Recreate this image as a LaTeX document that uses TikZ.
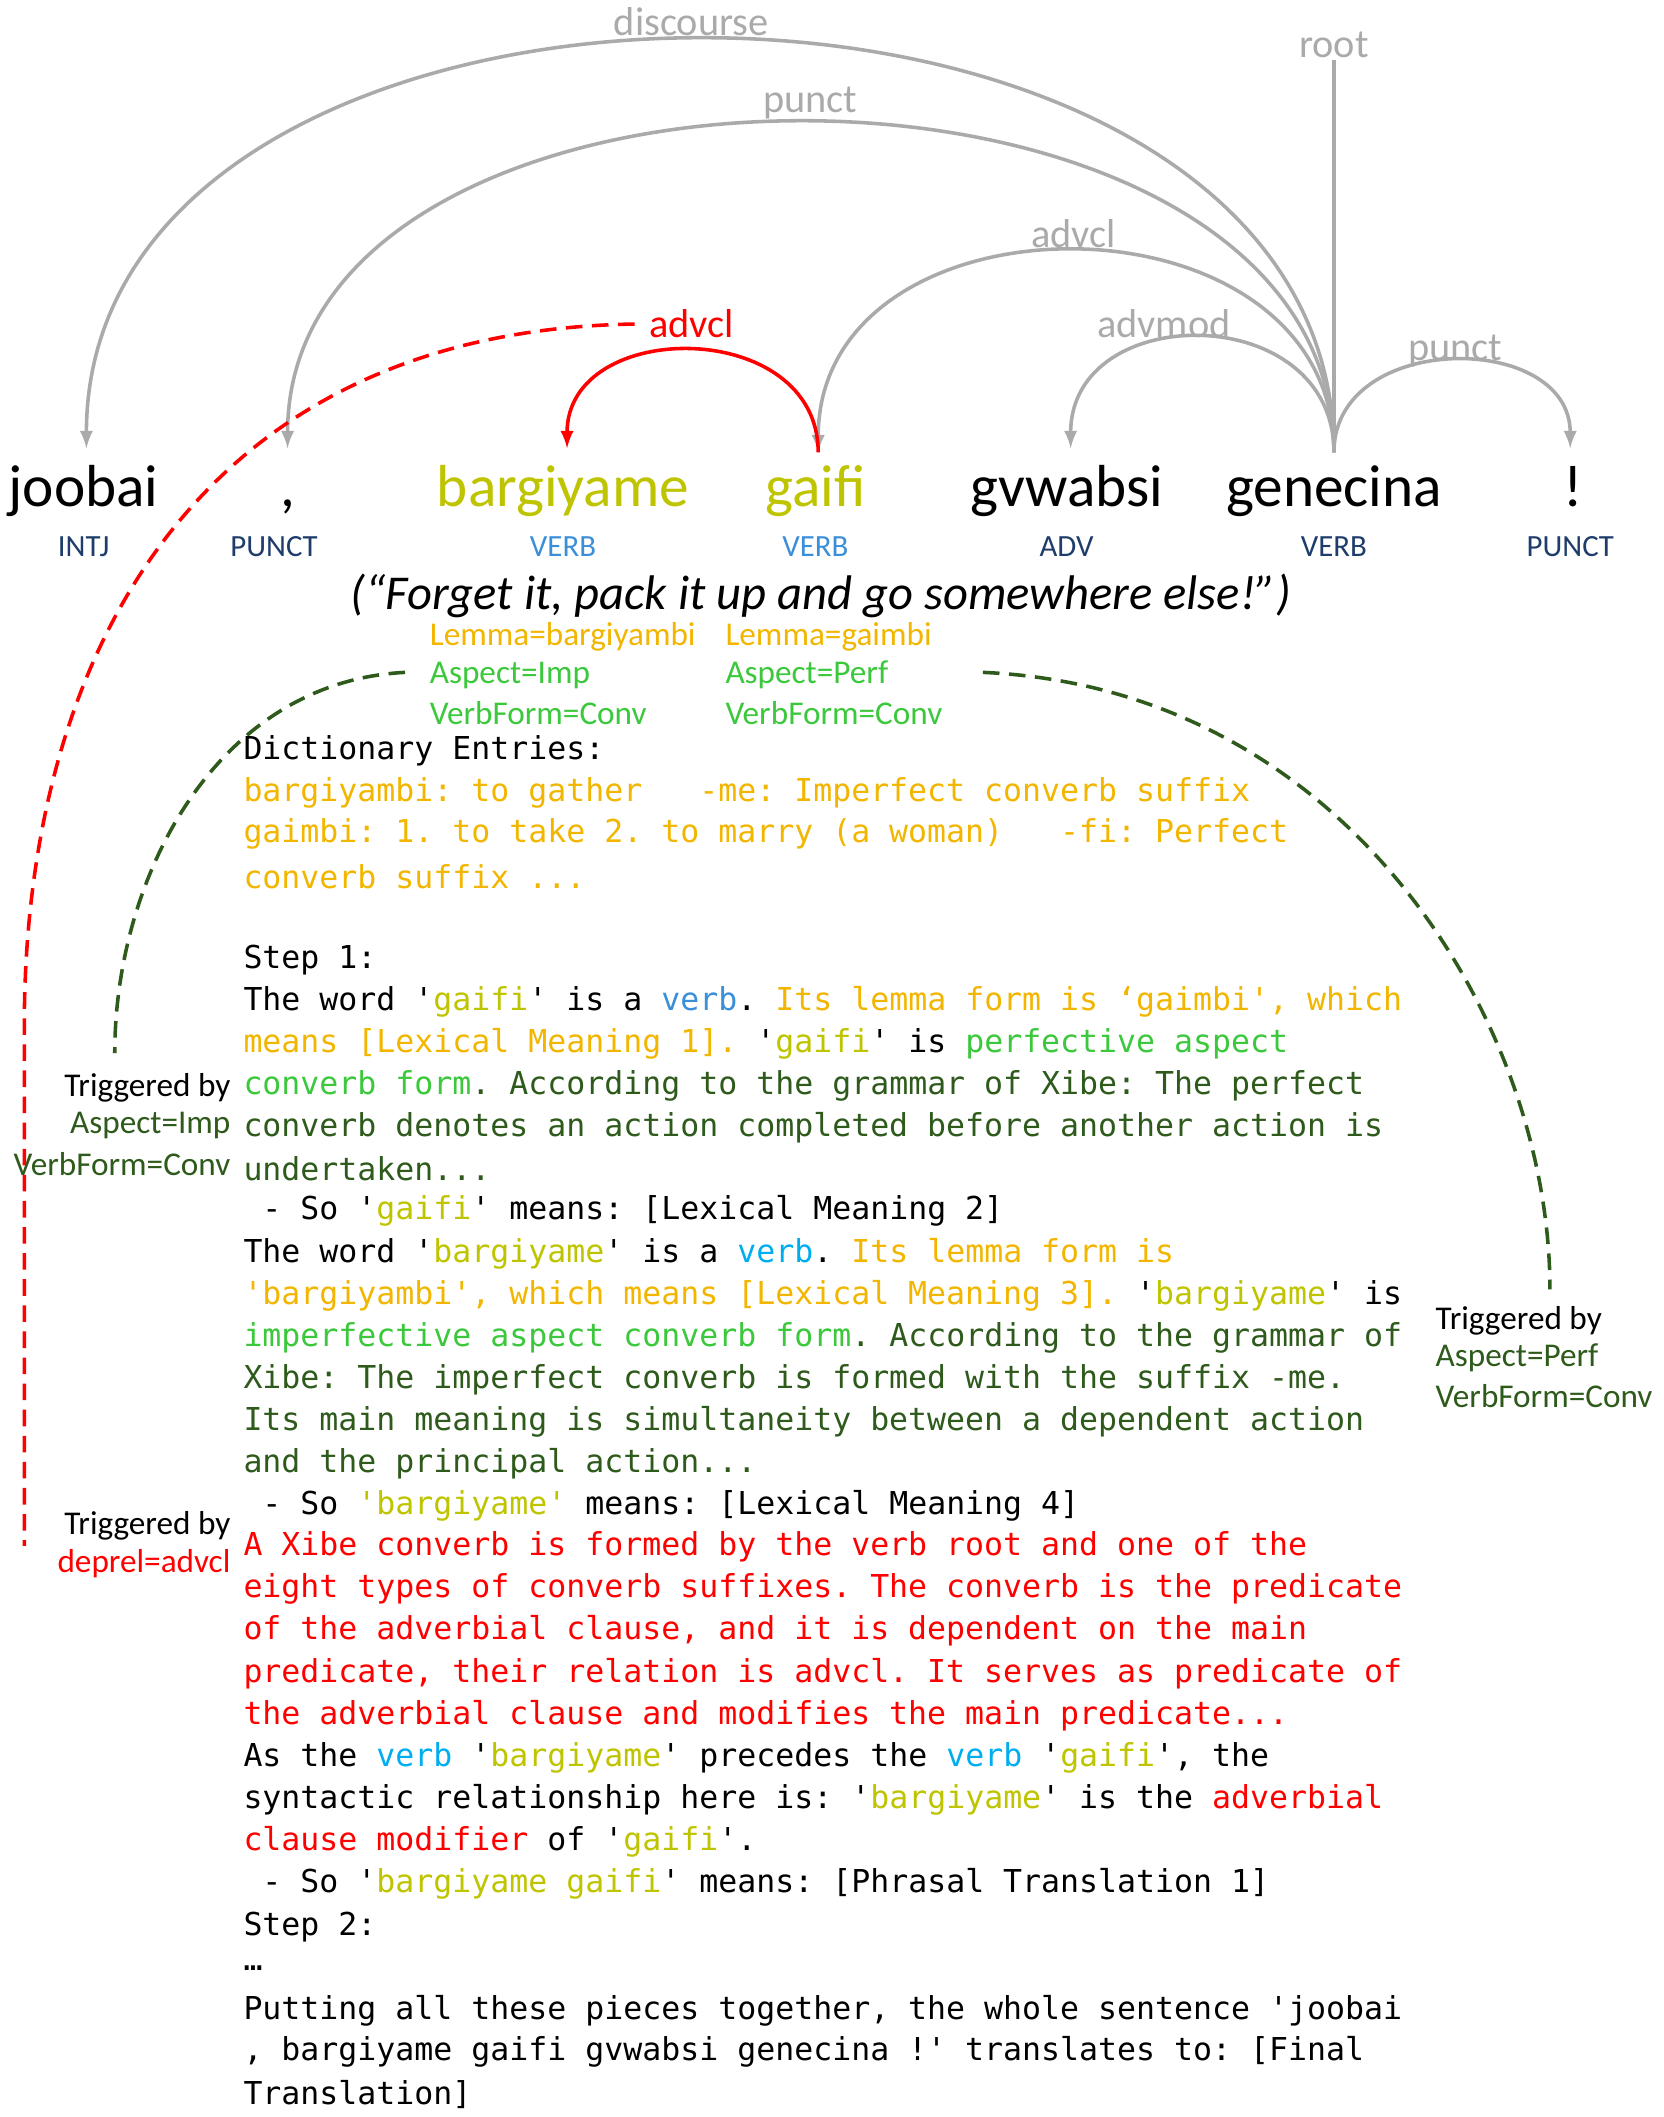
\documentclass[tikz,border=0pt]{standalone}
\usepackage{fontspec}
\setmainfont{Carlito}
\newfontfamily\monofam{DejaVu Sans Mono}
\definecolor{wordol}{HTML}{BFC400}
\definecolor{goldy}{HTML}{F2B600}
\definecolor{lgreen}{HTML}{3CC83C}
\definecolor{dgreen}{HTML}{2E5A1C}
\definecolor{vblue}{HTML}{3A8FD8}
\definecolor{cblue}{HTML}{00AEEF}
\definecolor{posblue}{HTML}{1F3D6B}
\definecolor{arcgray}{HTML}{AAAAAA}
\newcommand{\cw}[1]{\textcolor{wordol}{#1}}
\newcommand{\cv}[1]{\textcolor{vblue}{#1}}
\newcommand{\cb}[1]{\textcolor{cblue}{#1}}
\newcommand{\cg}[1]{\textcolor{goldy}{#1}}
\newcommand{\cp}[1]{\textcolor{lgreen}{#1}}
\newcommand{\cd}[1]{\textcolor{dgreen}{#1}}
\newcommand{\cred}[1]{\textcolor{red}{#1}}
\frenchspacing
\begin{document}
\begin{tikzpicture}[x=0.02cm,y=-0.02cm,>=latex,
  word/.style={anchor=base,inner sep=0pt,font=\fontsize{25}{30}\selectfont},
  postag/.style={anchor=base,inner sep=0pt,text=posblue,font=\fontsize{13}{15}\selectfont},
  arclab/.style={inner sep=1pt,text=arcgray,font=\fontsize{17}{20}\selectfont},
  arc/.style={arcgray,line width=1.5pt,->},
  trigline/.style={line width=1.5pt,dash pattern=on 7pt off 4pt},
  feat/.style={anchor=west,inner sep=0pt,font=\fontsize{14}{16}\selectfont},
  trig/.style={anchor=east,inner sep=0pt,font=\fontsize{14}{16}\selectfont},
  code/.style={anchor=west,inner sep=0pt,font=\monofam\fontsize{13.3}{16}\selectfont}]
\useasboundingbox (0,0) rectangle (1232,1568);
%% words
\node[word] (joobai) at (62,375) {joobai};
\node[word] (comma) at (213,375) {,};
\node[word,text=wordol] (bargiyame) at (417,375) {bargiyame};
\node[word,text=wordol] (gaifi) at (604,375) {gaifi};
\node[word] (gvwabsi) at (790,375) {gvwabsi};
\node[word] (genecina) at (988,375) {genecina};
\node[word] (excl) at (1165,375) {!};
\node[postag] (p1) at (62,412) {INTJ};
\node[postag] (p2) at (203,412) {PUNCT};
\node[postag,text=vblue] (p3) at (417,412) {VERB};
\node[postag,text=vblue] (p4) at (604,412) {VERB};
\node[postag] (p5) at (790,412) {ADV};
\node[postag] (p6) at (988,412) {VERB};
\node[postag] (p7) at (1163,412) {PUNCT};
\node[inner sep=0pt,font=\itshape\fontsize{20.5}{24}\selectfont] (transl) at (608,441) {(“Forget it, pack it up and go somewhere else!”)};
%% arcs
\coordinate (hd) at (988,335);
\coordinate (t1) at (64,332);
\coordinate (t2) at (213,332);
\coordinate (t3) at (420,332);
\coordinate (t4) at (606,335);
\coordinate (t5) at (793,332);
\coordinate (t7) at (1163,332);
\node[arclab] (lroot) at (988,33) {root};
\draw[arcgray,line width=1.5pt] (lroot) -- (hd);
\draw[arc] (hd) .. controls (988,-72) and (64,-72) .. (t1);
\node[arclab] (ldisc) at (512,16) {discourse};
\draw[arc] (hd) .. controls (988,10) and (213,10) .. (t2);
\node[arclab] (lpunct) at (600,76) {punct};
\draw[arc] (hd) .. controls (988,136) and (606,136) .. (t4);
\node[arclab] (ladvcl) at (795,173) {advcl};
\draw[arc] (hd) .. controls (988,222) and (793,222) .. (t5);
\node[arclab] (ladvmod) at (862,240) {advmod};
\draw[arc] (hd) .. controls (988,245) and (1163,245) .. (t7);
\node[arclab] (lpunct2) at (1078,260) {punct};
\draw[red,line width=1.5pt,->] (t4) .. controls (606,235) and (420,235) .. (t3);
\node[arclab,text=red] (lred) at (512,240) {advcl};
%% features
\node[feat,text=goldy] (f1) at (318,472) {Lemma=bargiyambi};
\node[feat,text=lgreen] (f2) at (318,500) {Aspect=Imp};
\node[feat,text=lgreen] (f3) at (318,528) {VerbForm=Conv};
\node[feat,text=goldy] (g1) at (537,472) {Lemma=gaimbi};
\node[feat,text=lgreen] (g2) at (537,500) {Aspect=Perf};
\node[feat,text=lgreen] (g3) at (537,528) {VerbForm=Conv};
%% triggers
\node[trig] (tr1) at (171,806) {Triggered by};
\node[trig,text=dgreen] (tr2) at (171,834) {Aspect=Imp};
\node[trig,text=dgreen] (tr3) at (171,862) {VerbForm=Conv};
\node[trig] (tr4) at (171,1130) {Triggered by};
\node[trig,text=red] (tr5) at (171,1158) {deprel=advcl};
\node[feat] (tr6) at (1063,978) {Triggered by};
\node[feat,text=dgreen] (tr7) at (1063,1006) {Aspect=Perf};
\node[feat,text=dgreen] (tr8) at (1063,1034) {VerbForm=Conv};
\coordinate (rs) at (470,240);
\coordinate (re) at (18,1145);
\draw[red,trigline] (rs) .. controls (150,245) and (18,480) .. (18,760) -- (re);
\coordinate (gs) at (300,498);
\coordinate (ge) at (85,780);
\draw[dgreen,trigline] (gs) .. controls (160,505) and (85,650) .. (ge);
\coordinate (hs) at (728,498);
\coordinate (he) at (1148,955);
\draw[dgreen,trigline] (hs) .. controls (1000,510) and (1148,760) .. (he);
%% text block
\node[code] (c1) at (180,556) {Dictionary Entries:};
\node[code,text=goldy] (c2) at (180,587) {bargiyambi: to gather\ \ \ -me: Imperfect converb suffix};
\node[code,text=goldy] (c3) at (180,618) {gaimbi: 1. to take 2. to marry (a woman)\ \ \ -fi: Perfect};
\node[code,text=goldy] (c4) at (180,649) {converb suffix ...};
\node[code] (c5) at (180,711) {Step 1:};
\node[code] (c6) at (180,742) {The word '\cw{gaifi}' is a \cv{verb}. \cg{Its lemma form is ‘gaimbi', which}};
\node[code] (c7) at (180,773) {\cg{means [Lexical Meaning 1].} '\cw{gaifi}' is \cp{perfective aspect}};
\node[code] (c8) at (180,804) {\cp{converb form}\cd{. According to the grammar of Xibe: The perfect}};
\node[code,text=dgreen] (c9) at (180,835) {converb denotes an action completed before another action is};
\node[code,text=dgreen] (c10) at (180,866) {undertaken...};
\node[code] (c11) at (180,897) {\ - So '\cw{gaifi}' means: [Lexical Meaning 2]};
\node[code] (c12) at (180,929) {The word '\cw{bargiyame}' is a \cb{verb}. \cg{Its lemma form is}};
\node[code] (c13) at (180,960) {\cg{'bargiyambi', which means [Lexical Meaning 3].} '\cw{bargiyame}' is};
\node[code] (c14) at (180,991) {\cp{imperfective aspect converb form}\cd{. According to the grammar of}};
\node[code,text=dgreen] (c15) at (180,1022) {Xibe: The imperfect converb is formed with the suffix -me.};
\node[code,text=dgreen] (c16) at (180,1053) {Its main meaning is simultaneity between a dependent action};
\node[code,text=dgreen] (c17) at (180,1084) {and the principal action...};
\node[code] (c18) at (180,1115) {\ - So \cw{'bargiyame'} means: [Lexical Meaning 4]};
\node[code,text=red] (c19) at (180,1146) {A Xibe converb is formed by the verb root and one of the};
\node[code,text=red] (c20) at (180,1177) {eight types of converb suffixes. The converb is the predicate};
\node[code,text=red] (c21) at (180,1208) {of the adverbial clause, and it is dependent on the main};
\node[code,text=red] (c22) at (180,1240) {predicate, their relation is advcl. It serves as predicate of};
\node[code,text=red] (c23) at (180,1271) {the adverbial clause and modifies the main predicate...};
\node[code] (c24) at (180,1302) {As the \cb{verb} '\cw{bargiyame}' precedes the \cb{verb} '\cw{gaifi}', the};
\node[code] (c25) at (180,1333) {syntactic relationship here is: '\cw{bargiyame}' is the \cred{adverbial}};
\node[code] (c26) at (180,1364) {\cred{clause modifier} of '\cw{gaifi}'.};
\node[code] (c27) at (180,1395) {\ - So '\cw{bargiyame gaifi}' means: [Phrasal Translation 1]};
\node[code] (c28) at (180,1427) {Step 2:};
\node[code] (c29) at (180,1458) {…};
\node[code] (c30) at (180,1489) {Putting all these pieces together, the whole sentence 'joobai};
\node[code] (c31) at (180,1520) {, bargiyame gaifi gvwabsi genecina !' translates to: [Final};
\node[code] (c32) at (180,1551) {Translation]};
\end{tikzpicture}
\end{document}
